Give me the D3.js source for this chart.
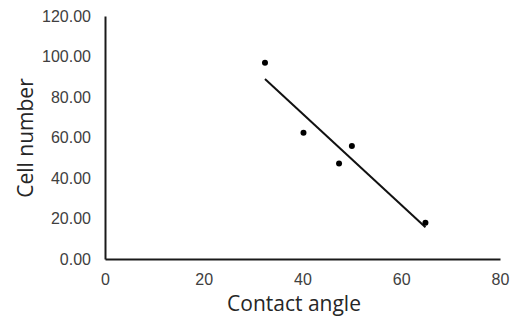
<!DOCTYPE html>
<html>
<head>
<meta charset="utf-8">
<script src="https://cdn.jsdelivr.net/npm/d3@7"></script>
<style>
  body { margin: 0; background: #fff; }
</style>
</head>
<body>
<div id="chart"></div>
<script>
// 数据
const contactAngle = [32.4, 40.2, 47.4, 50.0, 64.9];
const cellNumber = [96.9, 62.4, 47.2, 55.8, 17.9];
const xTicks = [0, 20, 40, 60, 80];
const yTicks = [0, 20, 40, 60, 80, 100, 120];

const width = 519, height = 323;
const margin = { top: 16, right: 19, bottom: 64, left: 105 };

const svg = d3.select("#chart")
    .append("svg")
    .attr("width", width)
    .attr("height", height);

const x = d3.scaleLinear().domain([0, 80]).range([margin.left, width - margin.right]);
const y = d3.scaleLinear().domain([0, 120]).range([height - margin.bottom, margin.top]);

const tickFont = "'Liberation Sans', Arial, sans-serif";
const titleFont = "'Open Sans', 'Liberation Sans', sans-serif";

// X 轴
const xAxis = svg.append("g")
    .attr("transform", `translate(0,${y(0)})`)
    .call(d3.axisBottom(x).tickValues(xTicks).tickSize(0).tickPadding(15).tickFormat(d3.format("d")));
xAxis.select(".domain").attr("stroke", "#1a1a1a").attr("stroke-width", 2);
xAxis.selectAll("text")
    .attr("font-family", tickFont)
    .attr("font-size", 16)
    .attr("fill", "#404040");

// Y 轴
const yAxis = svg.append("g")
    .attr("transform", `translate(${x(0)},0)`)
    .call(d3.axisLeft(y).tickValues(yTicks).tickSize(0).tickPadding(14).tickFormat(d3.format(".2f")));
yAxis.select(".domain").attr("stroke", "#1a1a1a").attr("stroke-width", 2);
yAxis.selectAll("text")
    .attr("font-family", tickFont)
    .attr("font-size", 16)
    .attr("fill", "#404040");

// 轴标题
svg.append("text")
    .attr("x", 294)
    .attr("y", 311)
    .attr("text-anchor", "middle")
    .attr("font-family", titleFont)
    .attr("font-size", 21)
    .attr("fill", "#262626")
    .text("Contact angle");

svg.append("text")
    .attr("transform", "rotate(-90)")
    .attr("x", -138)
    .attr("y", 33)
    .attr("text-anchor", "middle")
    .attr("font-family", titleFont)
    .attr("font-size", 21)
    .attr("fill", "#262626")
    .text("Cell number");

// 线性趋势线
const n = contactAngle.length;
const mx = d3.mean(contactAngle), my = d3.mean(cellNumber);
let sxy = 0, sxx = 0;
for (let i = 0; i < n; i++) {
    sxy += (contactAngle[i] - mx) * (cellNumber[i] - my);
    sxx += (contactAngle[i] - mx) ** 2;
}
const slope = sxy / sxx, intercept = my - slope * mx;
const x0 = d3.min(contactAngle), x1 = d3.max(contactAngle);

svg.append("line")
    .attr("x1", x(x0)).attr("y1", y(slope * x0 + intercept))
    .attr("x2", x(x1)).attr("y2", y(slope * x1 + intercept))
    .attr("stroke", "#111")
    .attr("stroke-width", 2);

// 数据点
svg.selectAll(".dot")
    .data(contactAngle)
    .enter()
    .append("circle")
    .attr("class", "dot")
    .attr("cx", d => x(d))
    .attr("cy", (d, i) => y(cellNumber[i]))
    .attr("r", 3)
    .attr("fill", "#000");
</script>
</body>
</html>
